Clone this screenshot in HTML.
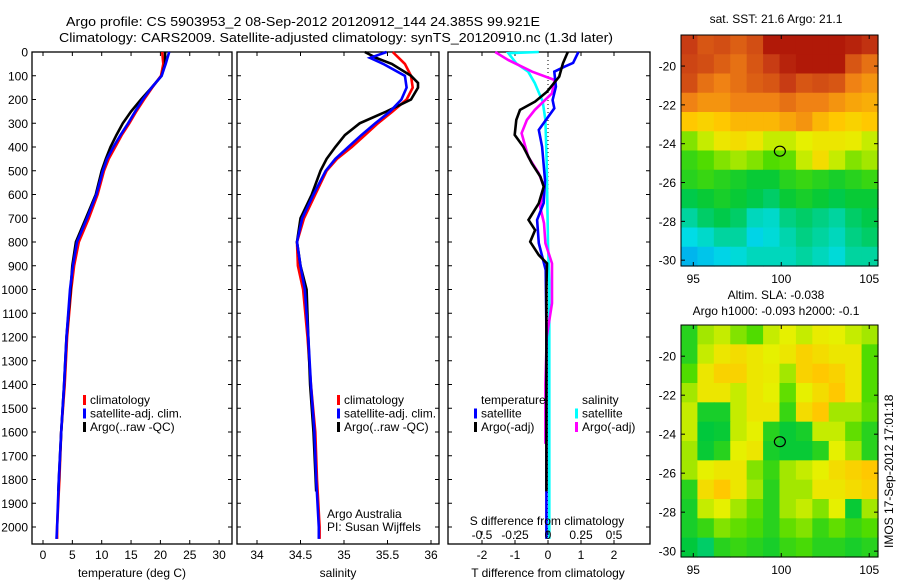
<!DOCTYPE html>
<html><head><meta charset="utf-8">
<style>
html,body{margin:0;padding:0;background:#fff;}
svg{display:block;font-family:"Liberation Sans",sans-serif;}
</style></head>
<body>
<svg id="fig" width="900" height="580" viewBox="0 0 900 580" xmlns="http://www.w3.org/2000/svg">
<rect width="900" height="580" fill="#fff"/>
<text x="66" y="26" font-size="13" textLength="474" lengthAdjust="spacingAndGlyphs">Argo profile: CS 5903953_2 08-Sep-2012 20120912_144 24.385S 99.921E</text>
<text x="59" y="42" font-size="13" textLength="554" lengthAdjust="spacingAndGlyphs">Climatology: CARS2009. Satellite-adjusted climatology: synTS_20120910.nc (1.3d later)</text>
<g id="g"></g>
</svg>
<script>
// ---------- data ----------
const depthT = [0,50,100,150,200,250,300,350,400,450,500,600,700,800,900,1000,1200,1400,1600,1800,2000,2050];
const tempClim = [20.3,20.5,20.1,18.6,17.2,15.9,14.7,13.4,12.3,11.2,10.4,9.3,7.8,6.1,5.3,4.8,4.1,3.7,3.1,2.8,2.4,2.4];
const tempSat  = [21.5,20.9,20.2,18.5,17.0,15.7,14.5,13.2,12.0,10.9,10.2,9.1,7.5,5.8,5.1,4.6,4.0,3.6,3.1,2.7,2.4,2.3];
const depthArgo = [0,50,100,150,200,250,300,350,400,450,500,600,700,800,900,1000,1200,1400,1600,1850];
const tempArgo = [20.8,20.8,20.2,18.5,16.7,15.0,13.6,12.5,11.5,10.7,10.0,9.0,7.3,5.6,5.0,4.7,4.0,3.6,3.1,2.6];

const depthS = [0,25,50,100,150,200,250,300,350,400,450,500,600,700,800,900,1000,1200,1400,1600,1800,2000,2050];
const salClim = [35.56,35.63,35.70,35.77,35.79,35.72,35.56,35.39,35.24,35.09,34.92,34.80,34.67,34.54,34.46,34.47,34.53,34.58,34.62,34.67,34.69,34.72,34.72];
const salSat  = [35.49,35.30,35.45,35.70,35.72,35.66,35.53,35.36,35.20,35.05,34.90,34.79,34.65,34.52,34.46,34.50,34.55,34.59,34.62,34.66,34.68,34.71,34.71];
const depthSA = [0,25,50,100,130,150,200,250,300,350,400,450,500,600,700,800,900,1000,1200,1400,1600,1850];
const salArgo = [35.24,35.37,35.55,35.77,35.85,35.85,35.77,35.49,35.18,35.01,34.90,34.80,34.73,34.63,34.50,34.46,34.50,34.57,34.59,34.61,34.65,34.68];

const dTArgoDepth = [0,48,104,167,209,244,286,349,399,469,525,567,637,707,750,799,855,890,1000,1400,1850];
const dTArgo = [0.6,0.45,0.34,-0.03,-0.39,-0.85,-0.96,-1.01,-0.75,-0.49,-0.23,-0.13,-0.28,-0.59,-0.39,-0.54,-0.28,-0.03,-0.05,-0.05,-0.05];
const dTSatDepth = [0,46,62,83,146,202,237,328,399,539,636,707,805,918,1171,1600,2050];
const dTSat = [0.92,0.76,0.5,0.19,0.24,0.14,0.19,-0.28,-0.18,-0.09,-0.13,-0.33,-0.28,-0.07,-0.05,-0.05,-0.05];
const dSArgoDepth = [0,34,83,118,174,244,286,342,441,511,567,651,721,805,890,1058,1200,1400,1650];
const dSArgo = [-0.40,-0.30,-0.12,0.05,0.03,-0.10,-0.16,-0.20,-0.15,-0.07,-0.03,-0.06,-0.03,-0.02,0.03,0.03,-0.01,-0.02,-0.02];
const dSSatDepth = [0,5,48,83,131,209,286,469,805,973,2050];
const dSSat = [-0.07,-0.30,-0.24,-0.15,-0.10,-0.04,-0.02,-0.01,0.0,0.01,0.01];

const depthTicks = [0,100,200,300,400,500,600,700,800,900,1000,1100,1200,1300,1400,1500,1600,1700,1800,1900,2000];
const tempTicks = [0,5,10,15,20,25,30];
const salTicks = [34,34.5,35,35.5,36];
const salTickLabels = ["34","34.5","35","35.5","36"];
const dTTicks = [-2,-1,0,1,2];
const dSTicks = [-0.5,-0.25,0,0.25,0.5];
const dSTickLabels = ["-0.5","-0.25","0","0.25","0.5"];

const latTicks = [-20,-22,-24,-26,-28,-30];
const lonTicks = [95,100,105];
const sstGrid = [
[.88,.85,.86,.84,.86,.95,.95,.95,.95,.95,.93,.90],
[.87,.86,.84,.82,.85,.88,.93,.95,.95,.95,.85,.82],
[.86,.82,.80,.82,.84,.85,.88,.85,.86,.85,.80,.78],
[.80,.78,.78,.80,.80,.80,.82,.80,.80,.78,.76,.75],
[.72,.70,.72,.74,.74,.74,.76,.78,.74,.72,.70,.72],
[.58,.62,.66,.68,.66,.62,.62,.64,.66,.66,.65,.62],
[.52,.55,.58,.60,.58,.55,.56,.62,.68,.62,.58,.60],
[.50,.52,.50,.48,.46,.46,.50,.52,.50,.48,.50,.52],
[.44,.46,.48,.46,.44,.42,.46,.48,.46,.44,.46,.46],
[.38,.42,.44,.42,.36,.35,.40,.42,.40,.38,.42,.44],
[.33,.35,.38,.38,.32,.34,.37,.40,.38,.36,.40,.42],
[.28,.30,.32,.34,.36,.36,.36,.38,.36,.34,.38,.38]];
const slaGrid = [
[.50,.60,.62,.58,.55,.62,.64,.62,.65,.64,.62,.60],
[.50,.62,.66,.68,.66,.64,.66,.70,.68,.66,.66,.55],
[.55,.66,.70,.70,.66,.65,.60,.70,.72,.70,.66,.55],
[.60,.66,.66,.62,.66,.64,.56,.64,.68,.72,.66,.55],
[.62,.48,.48,.62,.66,.66,.52,.68,.72,.60,.60,.56],
[.62,.45,.46,.62,.64,.50,.46,.48,.62,.62,.56,.50],
[.60,.46,.50,.64,.66,.48,.46,.46,.50,.64,.60,.50],
[.60,.64,.66,.66,.58,.52,.60,.62,.64,.68,.70,.72],
[.50,.68,.72,.66,.60,.50,.60,.60,.66,.66,.68,.70],
[.48,.62,.64,.60,.56,.50,.60,.62,.58,.64,.46,.60],
[.48,.52,.58,.56,.54,.50,.56,.58,.52,.56,.52,.55],
[.45,.42,.50,.52,.50,.48,.52,.54,.50,.50,.48,.50]];
const argoLon = 99.921, argoLat = -24.385;

// ---------- helpers ----------
const NS = "http://www.w3.org/2000/svg";
const G = document.getElementById('g');
function mk(tag, attrs, parent){ const e=document.createElementNS(NS,tag); for(const k in attrs) e.setAttribute(k,attrs[k]); (parent||G).appendChild(e); return e; }
function txt(x,y,s,size,anchor,parent){ const t=mk('text',{x:x,y:y,'font-size':size||12,'text-anchor':anchor||'start'},parent); t.textContent=s; return t; }

const TOP=52, BOT=544;
const yD = d => TOP + d*0.2375;
const xT = t => 43 + t*5.87;
const xS = s => 257 + (s-34)*87;
const xdT = v => 548 + v*33;
const xdS = v => 548 + v*132;

function panel(name,x0,x1){ const r=mk('rect',{x:x0,y:TOP,width:x1-x0,height:BOT-TOP,fill:'none',stroke:'#000','stroke-width':1.3});
 
  }
function line(name,xs,ds,fx,color,w){ const pts=xs.map((v,i)=>fx(v).toFixed(1)+','+yD(ds[i]).toFixed(1)).join(' ');
 const p=mk('polyline',{points:pts,fill:'none',stroke:color,'stroke-width':w||2.6,'stroke-linejoin':'miter'});
 
  }
function yTicks(x0,x1){ depthTicks.forEach(d=>{ const y=yD(d); mk('line',{x1:x0,y1:y,x2:x0+4,y2:y,stroke:'#000'}); mk('line',{x1:x1,y1:y,x2:x1-4,y2:y,stroke:'#000'}); }); }
function xTicks(vals,labels,fx,name){ vals.forEach((v,i)=>{ const x=fx(v); mk('line',{x1:x,y1:TOP,x2:x,y2:TOP+4,stroke:'#000'}); mk('line',{x1:x,y1:BOT,x2:x,y2:BOT-4,stroke:'#000'});
 const t=txt(x,559,labels[i],12,'middle');
 
  }); }

// ---------- panel 1: temperature ----------
panel('temperature-panel',32,232);
yTicks(32,232);
depthTicks.forEach(d=>{ const t=txt(28,yD(d)+4.5,String(d),12,'end');
 
  });
xTicks(tempTicks,tempTicks.map(String),xT,'temperature');
line('temp-climatology-line',tempClim,depthT,xT,'#f00');
line('temp-argo-line',tempArgo,depthArgo,xT,'#000');
line('temp-satellite-line',tempSat,depthT,xT,'#00f');
let t1=txt(132,577,'temperature (deg C)',12,'middle');  

function legend(name,x,entries){ entries.forEach((e,i)=>{ const y=404+i*13.5;
 mk('rect',{x:x,y:y-9,width:3,height:10,fill:e[1]});
 const t=txt(x+7,y,e[0],12);
 
  }); }
legend('temperature-legend',83,[['climatology','#f00'],['satellite-adj. clim.','#00f'],['Argo(..raw -QC)','#000']]);

// ---------- panel 2: salinity ----------
panel('salinity-panel',237,439);
yTicks(237,439);
xTicks(salTicks,salTickLabels,xS,'salinity');
line('sal-climatology-line',salClim,depthS,xS,'#f00');
line('sal-argo-line',salArgo,depthSA,xS,'#000');
line('sal-satellite-line',salSat,depthS,xS,'#00f');
let t2=txt(338,577,'salinity',12,'middle');  
legend('salinity-legend',337,[['climatology','#f00'],['satellite-adj. clim.','#00f'],['Argo(..raw -QC)','#000']]);
let c1=txt(327,518,'Argo Australia',12);  
let c2=txt(327,531,'PI: Susan Wijffels',12);  

// ---------- panel 3: differences ----------
panel('difference-panel',448,650);
yTicks(448,650);
mk('line',{x1:xdT(0),y1:TOP,x2:xdT(0),y2:BOT,stroke:'#000','stroke-dasharray':'1,3'});
xTicks(dTTicks,dTTicks.map(String),xdT,'t-difference');
line('s-sat-diff-line',dSSat,dSSatDepth,xdS,'#0ff');
line('s-argo-diff-line',dSArgo,dSArgoDepth,xdS,'#f0f');
line('t-sat-diff-line',dTSat,dTSatDepth,xdT,'#00f');
line('t-argo-diff-line',dTArgo,dTArgoDepth,xdT,'#000');
dSTicks.forEach((v,i)=>{ const x=xdS(v); mk('line',{x1:x,y1:531,x2:x,y2:535,stroke:'#000'});
 const t=txt(x,539,dSTickLabels[i],12,'middle');
 
  });
let t3=txt(547,525,'S difference from climatology',12,'middle');  
let t4=txt(548,577,'T difference from climatology',12,'middle');  
let h1=txt(481,404,'temperature',12);  
let h2=txt(582,404,'salinity',12);  
[['satellite','#00f',474],['Argo(-adj)','#000',474],['satellite','#0ff',575],['Argo(-adj)','#f0f',575]].forEach((e,i)=>{
 const y=417.5+(i%2)*13.5; mk('rect',{x:e[2],y:y-9,width:3,height:10,fill:e[1]});
 const t=txt(e[2]+7,y,e[0],12);
 
  });

// ---------- maps ----------
function jet(v){ const stops=[[0,[0,0,160]],[0.15,[0,80,255]],[0.33,[0,220,230]],[0.45,[0,200,60]],[0.55,[80,220,0]],[0.64,[230,240,0]],[0.72,[255,200,0]],[0.8,[240,130,20]],[0.88,[200,60,20]],[1,[160,0,0]]];
 for(let i=1;i<stops.length;i++){ if(v<=stops[i][0]){ const a=stops[i-1],b=stops[i],f=(v-a[0])/(b[0]-a[0]);
  return 'rgb('+a[1].map((c,j)=>Math.round(c+(b[1][j]-c)*f)).join(',')+')'; } } return 'rgb(160,0,0)'; }
function map(name,grid,top,bottom,titles){
 const L=681,R=878,lon0=94.3,lon1=105.5,lat0=-18.4,lat1=-30.3;
 const xL=lo=>L+(lo-lon0)/(lon1-lon0)*(R-L), yL=la=>top+(la-lat0)/(lat1-lat0)*(bottom-top);
 const g=mk('g',{});
 
 
 const rows=grid.length, cols=grid[0].length, cw=(R-L)/cols, ch=(bottom-top)/rows;
 grid.forEach((row,r)=>row.forEach((v,c)=>{ const cell=mk('rect',{x:L+c*cw,y:top+r*ch,width:cw+0.6,height:ch+0.6,fill:jet(v)},g);
  
   }));
 mk('rect',{x:L,y:top,width:R-L,height:bottom-top,fill:'none',stroke:'#000','stroke-width':1},g);
 latTicks.forEach(la=>{ const y=yL(la); mk('line',{x1:L,y1:y,x2:L+4,y2:y,stroke:'#000'},g); mk('line',{x1:R,y1:y,x2:R-4,y2:y,stroke:'#000'},g);
  const t=txt(L-5,y+4.5,String(la),12,'end',g);
  
   });
 lonTicks.forEach(lo=>{ const x=xL(lo); mk('line',{x1:x,y1:bottom,x2:x,y2:bottom-4,stroke:'#000'},g); mk('line',{x1:x,y1:top,x2:x,y2:top+4,stroke:'#000'},g);
  const t=txt(x,bottom+17,String(lo),12,'middle',g);
  
   });
 const m=mk('ellipse',{cx:xL(argoLon),cy:yL(argoLat),rx:5.5,ry:5,fill:'none',stroke:'#000','stroke-width':1.2},g);
 
 
 titles.forEach((s,i)=>{ const t=txt(776,titles.length==1?23:(top-26+i*16),s,12,'middle',g);
  
   });
}
map('sst-map',sstGrid,35,266,['sat. SST: 21.6 Argo: 21.1']);
map('sla-map',slaGrid,325,557,['Altim. SLA: -0.038','Argo h1000: -0.093 h2000: -0.1']);
const im=mk('text',{x:0,y:0,'font-size':12,transform:'translate(893,548) rotate(-90)'});
im.textContent='IMOS 17-Sep-2012 17:01:18';


</script>
</body></html>
